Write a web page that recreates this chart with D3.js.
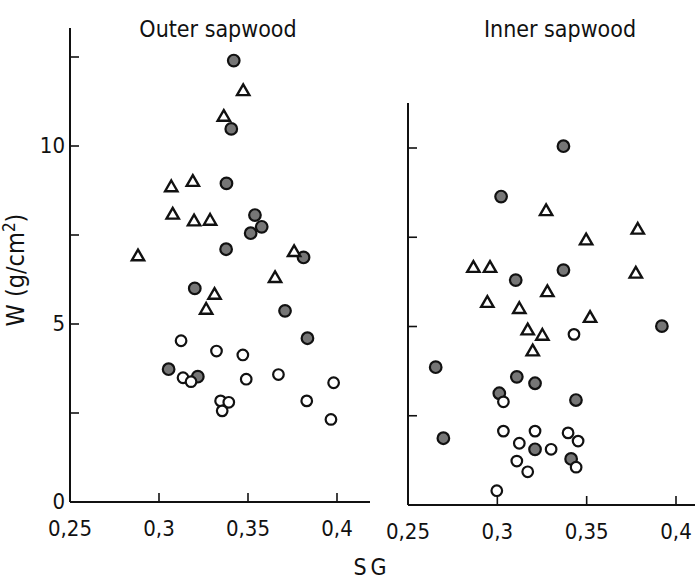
<!DOCTYPE html>
<html><head><meta charset="utf-8">
<script src="https://cdn.jsdelivr.net/npm/d3@7"></script>
<style>
body{margin:0;background:#fff;}
text{font-family:'Liberation Sans Narrow','DejaVu Sans Condensed','DejaVu Sans',sans-serif;fill:#111;}
</style></head>
<body>
<svg id="c" width="695" height="581"></svg>
<script>
// ---- data (SG, W) ----
const panels = ["Outer sapwood", "Inner sapwood"];
const xTicks = [0.25, 0.3, 0.35, 0.4];
const xTickLabels = ["0,25", "0,3", "0,35", "0,4"];
const yTicks = [0, 2.5, 5, 7.5, 10, 12.5];
const yTickLabels = ["0", "", "5", "", "10", ""];

// Outer sapwood
const outerFilledSG = [0.342, 0.3406, 0.3379, 0.3539, 0.3515, 0.3577, 0.3377, 0.3201, 0.3708, 0.3834, 0.3054, 0.3218, 0.3812];
const outerFilledW  = [12.40, 10.48, 8.95, 8.06, 7.55, 7.73, 7.10, 6.00, 5.37, 4.60, 3.73, 3.52, 6.87];
const outerTriSG = [0.3473, 0.3364, 0.3069, 0.3190, 0.3077, 0.3197, 0.3287, 0.2882, 0.3759, 0.3652, 0.3312, 0.3265];
const outerTriW  = [11.53, 10.81, 8.83, 8.98, 8.06, 7.87, 7.89, 6.89, 7.01, 6.28, 5.81, 5.39];
const outerOpenSG = [0.3124, 0.3323, 0.3471, 0.3135, 0.3180, 0.3490, 0.3671, 0.3981, 0.3346, 0.3392, 0.3355, 0.3830, 0.3966];
const outerOpenW  = [4.53, 4.24, 4.13, 3.49, 3.38, 3.45, 3.58, 3.35, 2.84, 2.80, 2.56, 2.84, 2.32];

// Inner sapwood
const innerFilledSG = [0.337, 0.3021, 0.3103, 0.3370, 0.3921, 0.2655, 0.3109, 0.3211, 0.3011, 0.2698, 0.3211, 0.344, 0.3413];
const innerFilledW  = [10.05, 8.64, 6.30, 6.58, 5.01, 3.86, 3.59, 3.41, 3.13, 1.87, 1.56, 2.94, 1.29];
const innerTriSG = [0.3273, 0.3786, 0.3497, 0.3775, 0.2866, 0.2959, 0.3280, 0.2944, 0.3123, 0.3519, 0.3170, 0.3252, 0.3198];
const innerTriW  = [8.22, 7.70, 7.40, 6.47, 6.63, 6.63, 5.95, 5.65, 5.48, 5.23, 4.88, 4.73, 4.29];
const innerOpenSG = [0.3429, 0.3034, 0.3034, 0.3211, 0.3123, 0.3301, 0.3109, 0.3170, 0.2997, 0.3396, 0.3452, 0.3441];
const innerOpenW  = [4.78, 2.89, 2.07, 2.07, 1.73, 1.56, 1.23, 0.93, 0.40, 2.02, 1.79, 1.06];

const zip = (a, b) => a.map((v, i) => [v, b[i]]);

const svg = d3.select("#c");

const cfg = [
  { title: panels[0], x0: 70, x1: 337, xEnd: 370, y0: 502, y10: 146, yTop: 28, titleX: 218,
    filled: zip(outerFilledSG, outerFilledW), tri: zip(outerTriSG, outerTriW), open: zip(outerOpenSG, outerOpenW), labels: true },
  { title: panels[1], x0: 408, x1: 676, xEnd: 695, y0: 505, y10: 148, yTop: 103, titleX: 560,
    filled: zip(innerFilledSG, innerFilledW), tri: zip(innerTriSG, innerTriW), open: zip(innerOpenSG, innerOpenW), labels: false }
];

cfg.forEach(p => {
  const x = d3.scaleLinear().domain([0.25, 0.4]).range([p.x0, p.x1]);
  const y = d3.scaleLinear().domain([0, 10]).range([p.y0, p.y10]);
  const g = svg.append("g");

  g.append("line").attr("x1", p.x0).attr("x2", p.x0).attr("y1", p.yTop).attr("y2", p.y0)
    .attr("stroke", "#111").attr("stroke-width", 2);
  g.append("line").attr("x1", p.x0).attr("x2", p.xEnd).attr("y1", p.y0).attr("y2", p.y0)
    .attr("stroke", "#111").attr("stroke-width", 2);

  xTicks.slice(1).forEach(t => {
    g.append("line").attr("x1", x(t)).attr("x2", x(t)).attr("y1", p.y0).attr("y2", p.y0 - 9)
      .attr("stroke", "#111").attr("stroke-width", 1.6);
  });
  xTicks.forEach((t, i) => {
    g.append("text").attr("x", x(t)).attr("y", p.y0 + 34).attr("text-anchor", "middle")
      .attr("font-size", 22).text(xTickLabels[i]);
  });

  yTicks.forEach((t, i) => {
    if (t === 0) return;
    if (y(t) < p.yTop) return;
    g.append("line").attr("x1", p.x0).attr("x2", p.x0 + 9).attr("y1", y(t)).attr("y2", y(t))
      .attr("stroke", "#111").attr("stroke-width", 1.6);
  });
  if (p.labels) {
    yTicks.forEach((t, i) => {
      if (!yTickLabels[i]) return;
      g.append("text").attr("x", p.x0 - 5).attr("y", y(t) + 7).attr("text-anchor", "end")
        .attr("font-size", 22).text(yTickLabels[i]);
    });
  }

  g.append("text").attr("x", p.titleX).attr("y", 37).attr("text-anchor", "middle")
    .attr("font-size", 23).text(p.title);

  g.selectAll(".f").data(p.filled).enter().append("circle")
    .attr("cx", d => x(d[0])).attr("cy", d => y(d[1])).attr("r", 5.8)
    .attr("fill", "#767676").attr("stroke", "#111").attr("stroke-width", 2.2);
  const tri = d3.symbol().type(d3.symbolTriangle).size(66);
  g.selectAll(".t").data(p.tri).enter().append("path")
    .attr("d", tri).attr("transform", d => `translate(${x(d[0])},${y(d[1])})`)
    .attr("fill", "#fff").attr("stroke", "#111").attr("stroke-width", 2.4).attr("stroke-linejoin", "miter");
  g.selectAll(".o").data(p.open).enter().append("circle")
    .attr("cx", d => x(d[0])).attr("cy", d => y(d[1])).attr("r", 5.3)
    .attr("fill", "#fff").attr("stroke", "#111").attr("stroke-width", 2.2);
});

svg.append("text").attr("transform", "translate(24,270) rotate(-90)").attr("text-anchor", "middle")
  .attr("font-size", 25)
  .call(t => { t.append("tspan").text("W (g/cm"); t.append("tspan").attr("dy", -9).attr("font-size", 17).text("2"); t.append("tspan").attr("dy", 9).text(")"); });
svg.append("text").attr("x", 372).attr("y", 575).attr("text-anchor", "middle")
  .attr("font-size", 23).attr("letter-spacing", 4).text("SG");
</script>
</body></html>
